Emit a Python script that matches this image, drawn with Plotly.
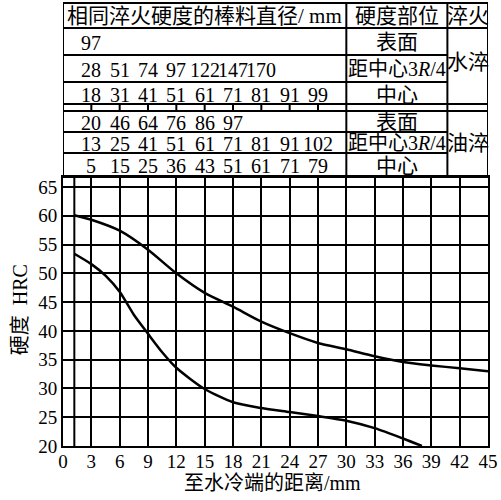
import plotly.graph_objects as go

# hardness curves (distance from quenched end mm, HRC)
dist_upper = [1.2, 3, 6, 9, 12, 15, 18, 21, 24, 27, 30, 33, 36, 39, 42, 45]
hrc_upper = [60.1, 59.3, 57.4, 54.1, 50.0, 46.6, 44.2, 41.6, 39.6, 37.9, 36.8, 35.6, 34.6, 34.0, 33.5, 33.0]
dist_lower = [1.2, 3, 4.5, 6, 7.5, 9, 10.5, 12, 15, 18, 21, 24, 27, 30, 33, 36, 38]
hrc_lower = [53.4, 51.6, 49.6, 46.8, 42.8, 39.5, 36.3, 33.6, 29.9, 27.6, 26.6, 25.9, 25.2, 24.4, 23.1, 21.3, 20.0]

x_ticks = list(range(0, 46, 3))
y_ticks = list(range(20, 66, 5))

# bar diameters with same hardness, one number above each 3 mm step
water_surface = ['97']
water_3r4 = ['28', '51', '74', '97', '122', '147', '170']
water_center = ['18', '31', '41', '51', '61', '71', '81', '91', '99']
oil_surface = ['20', '46', '64', '76', '86', '97']
oil_3r4 = ['13', '25', '41', '51', '61', '71', '81', '91', '102']
oil_center = ['5', '15', '25', '36', '43', '51', '61', '71', '79']

W, H = 501, 500
L, R, T, B = 63, 11, 3, 54
PLOT_H = H - T - B
CHART_TOP = 177


def py(p):
    # pixel row -> paper y
    return (H - B - p) / PLOT_H


def px(p):
    return (p - L) / (W - L - R)


FONT = 'Liberation Serif, "Noto Sans CJK SC", serif'
LINE = dict(color='black', width=2)

fig = go.Figure()
for xs, ys in [(dist_upper, hrc_upper), (dist_lower, hrc_lower)]:
    fig.add_trace(go.Scatter(
        x=xs, y=ys, mode='lines',
        line=dict(color='black', width=2.5, shape='spline', smoothing=0.7),
        showlegend=False, hoverinfo='skip',
    ))

shapes = []
# table horizontal rules
for p in [3, 28, 104, 111, CHART_TOP]:
    shapes.append(dict(type='line', xref='x', yref='paper', x0=0, x1=45, y0=py(p), y1=py(p), line=LINE))
for p in [55, 82, 132, 153]:
    shapes.append(dict(type='line', xref='x', yref='paper', x0=0, x1=40.7, y0=py(p), y1=py(p), line=LINE))
# table vertical rules
for xv in [0, 30, 40.7, 45]:
    shapes.append(dict(type='line', xref='x', yref='paper', x0=xv, x1=xv, y0=py(3), y1=py(CHART_TOP), line=LINE))
for xv in range(3, 28, 3):
    shapes.append(dict(type='line', xref='x', yref='paper', x0=xv, x1=xv, y0=py(104), y1=py(111), line=LINE))
# extra grid line near the quenched end
shapes.append(dict(type='line', xref='x', yref='paper', x0=1.2, x1=1.2, y0=0, y1=py(CHART_TOP), line=LINE, layer='below'))

annotations = []


def txt(x, y, s, xref='x', size=20, **kw):
    annotations.append(dict(x=x, y=y, xref=xref, yref='paper', text=s, showarrow=False,
                            xanchor='center', yanchor='middle',
                            font=dict(family=FONT, size=size, color='black'), **kw))


rows = [(water_surface, 43), (water_3r4, 70), (water_center, 95),
        (oil_surface, 123), (oil_3r4, 144), (oil_center, 166)]
for vals, p in rows:
    for i, v in enumerate(vals):
        txt(3 * (i + 1), py(p), v)

txt(15, py(16), '相同淬火硬度的棒料直径/ mm', size=21)
txt(35.35, py(16), '硬度部位', size=21)
txt(42.85, py(16), '淬火', size=21)
for p, s in [(42, '表面'), (69, '距中心3<i>R</i>/4'), (95, '中心'),
             (122, '表面'), (143, '距中心3<i>R</i>/4'), (166, '中心')]:
    txt(35.35, py(p), s, size=20 if 'R' in s else 21)
txt(42.85, py(62), '水淬', size=21)
txt(42.85, py(143), '油淬', size=21)

txt(px(273), py(483), '至水冷端的距离/mm', xref='paper')
txt(px(20), py(310), '硬度  HRC', xref='paper', textangle=-90)

axis_common = dict(showgrid=True, gridcolor='black', gridwidth=2, showline=True,
                   linecolor='black', linewidth=2, mirror=True, zeroline=False,
                   ticks='', tickfont=dict(family=FONT, size=19, color='black'))

fig.update_layout(
    width=W, height=H,
    margin=dict(l=L, r=R, t=T, b=B),
    paper_bgcolor='white', plot_bgcolor='white',
    xaxis=dict(range=[0, 45], tickvals=x_ticks, ticklabelstandoff=-3, **axis_common),
    yaxis=dict(domain=[0, py(CHART_TOP)], range=[20, 20 + (446 - CHART_TOP) / 5.756],
               tickvals=y_ticks, **axis_common),
    shapes=shapes,
    annotations=annotations,
)

# page has a default 8px body margin, drop it so the figure fills the window
fig.write_html("out.html", config={'displayModeBar': False},
               post_script="document.body.style.margin='0';")
